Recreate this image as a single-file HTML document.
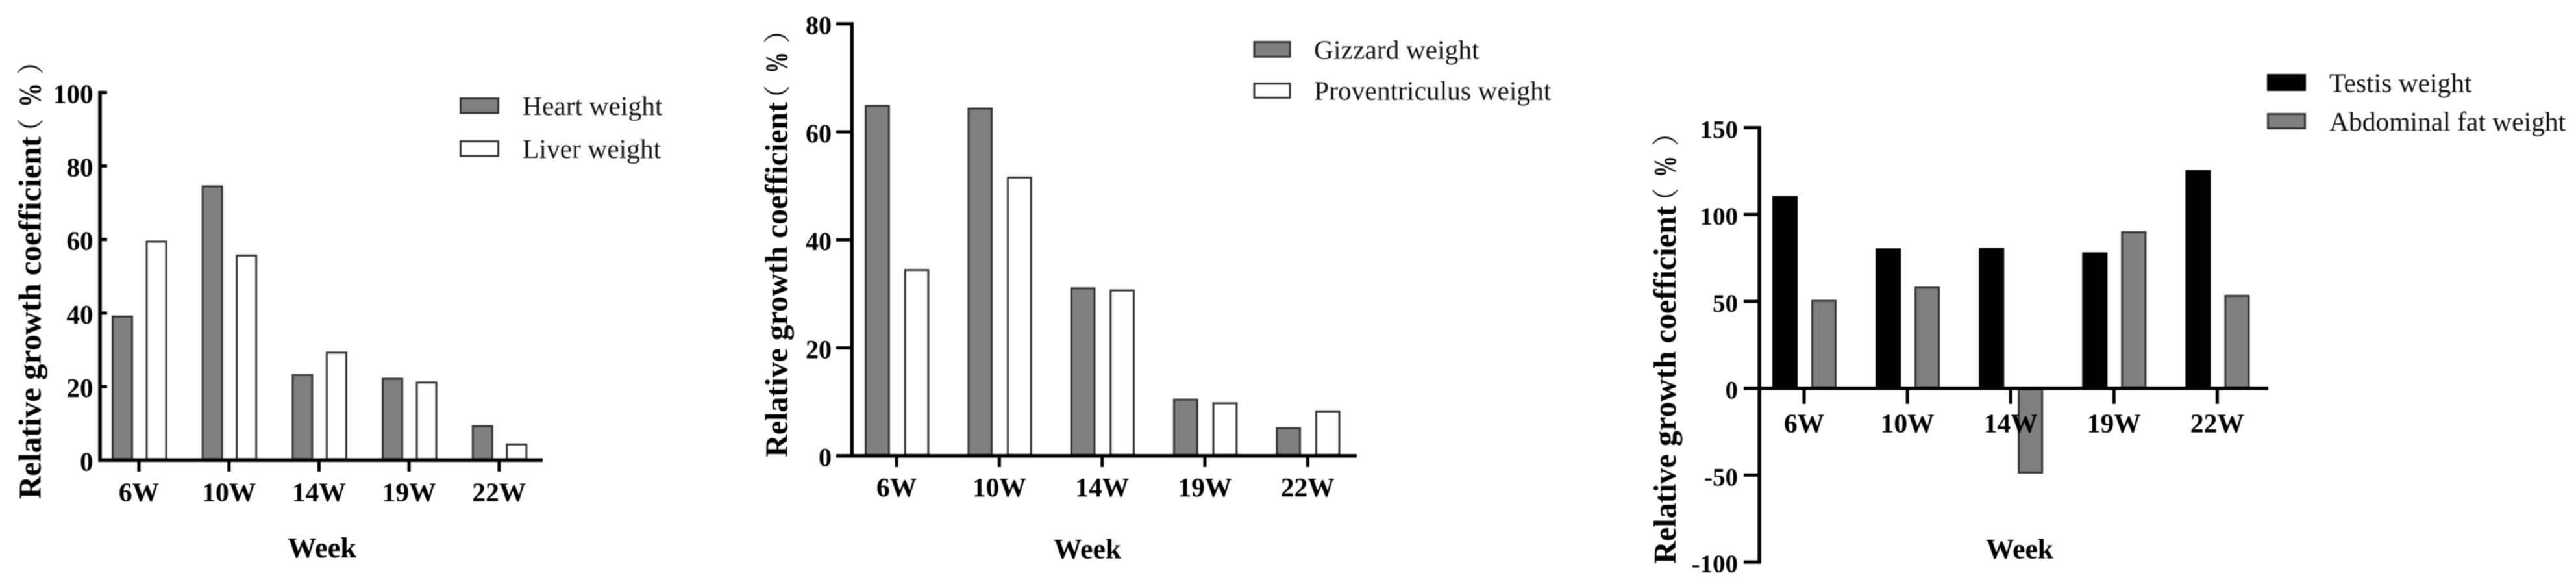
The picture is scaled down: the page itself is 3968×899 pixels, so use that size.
<!DOCTYPE html>
<html lang="en">
<head>
<meta charset="utf-8">
<title>Relative growth coefficient by week</title>
<style>
  html, body { margin: 0; padding: 0; background: #fff; }
  body { width: 3968px; height: 899px; overflow: hidden; }
  svg { display: block; filter: blur(0.7px); }
  text { font-family: "Liberation Serif", "Noto Serif CJK SC", serif; fill: #000; }
  .bold { font-weight: bold; }
  .leg { font-size: 41.5px; fill: #111; }
  .title { font-size: 48.5px; font-weight: bold; font-variant-ligatures: none; }
  .paren { font-size: 42px; font-weight: normal; font-family: "Noto Serif CJK SC", "Liberation Serif", serif; }
  .week { font-size: 44.5px; font-weight: bold; text-anchor: middle; }
</style>
</head>
<body>
<svg id="figure" xmlns="http://www.w3.org/2000/svg" width="3968" height="899" viewBox="0 0 3968 899">
  <rect x="0" y="0" width="3968" height="899" fill="#fff"/>

  <g id="panel-1"></g>
  <g id="panel-2"></g>
  <g id="panel-3"></g>

  <!-- Panel 1 static -->
  <g transform="translate(62.5,768) rotate(-90)">
    <text class="title" x="0" y="0" textLength="558" lengthAdjust="spacingAndGlyphs">Relative growth coefficient</text>
    <text class="paren" x="544" y="0">（</text>
    <text class="title" x="603" y="0" textLength="37" lengthAdjust="spacingAndGlyphs">%</text>
    <text class="paren" x="653" y="0">）</text>
  </g>
  <text class="week" x="496" y="858">Week</text>
  <g>
    <rect x="709.5" y="151.5" width="58" height="22.5" fill="#808080" stroke="#333" stroke-width="3"/>
    <text class="leg" x="805" y="177">Heart weight</text>
    <rect x="709.5" y="217.5" width="58" height="22.5" fill="#fff" stroke="#333" stroke-width="3"/>
    <text class="leg" x="805" y="243">Liver weight</text>
  </g>

  <!-- Panel 2 static -->
  <g transform="translate(1212.7,703.7) rotate(-90)">
    <text class="title" x="0" y="0" textLength="546.7" lengthAdjust="spacingAndGlyphs">Relative growth coefficient</text>
    <text class="paren" x="530.7" y="0">（</text>
    <text class="title" x="590.7" y="0" textLength="33" lengthAdjust="spacingAndGlyphs">%</text>
    <text class="paren" x="636.7" y="0">）</text>
  </g>
  <text class="week" x="1675" y="859.6" style="font-size:43.5px">Week</text>
  <g>
    <rect x="1932" y="64.5" width="55" height="22.8" fill="#808080" stroke="#333" stroke-width="3"/>
    <text class="leg" x="2024" y="90.5">Gizzard weight</text>
    <rect x="1932" y="128.7" width="55" height="21.7" fill="#fff" stroke="#333" stroke-width="3"/>
    <text class="leg" x="2024" y="153.6">Proventriculus weight</text>
  </g>

  <!-- Panel 3 static -->
  <g transform="translate(2581,868) rotate(-90)">
    <text class="title" x="0" y="0" textLength="551" lengthAdjust="spacingAndGlyphs">Relative growth coefficient</text>
    <text class="paren" x="537" y="0">（</text>
    <text class="title" x="595" y="0" textLength="33" lengthAdjust="spacingAndGlyphs">%</text>
    <text class="paren" x="643" y="0">）</text>
  </g>
  <text class="week" x="3111" y="859.6" style="font-size:43.5px">Week</text>
  <g>
    <rect x="3493" y="115" width="58" height="24" fill="#000" stroke="#000" stroke-width="2"/>
    <text class="leg" x="3588" y="141.7">Testis weight</text>
    <rect x="3493.5" y="175.5" width="57" height="22" fill="#808080" stroke="#333" stroke-width="3"/>
    <text class="leg" x="3588" y="201">Abdominal fat weight</text>
  </g>
</svg>

<script>
const categories = ["6W", "10W", "14W", "19W", "22W"];

const heartWeight = [39.3, 74.7, 23.4, 22.4, 9.5];
const liverWeight = [59.7, 55.9, 29.5, 21.4, 4.5];
const panel1Ticks = [0, 20, 40, 60, 80, 100];

const gizzardWeight = [65.0, 64.5, 31.2, 10.6, 5.3];
const proventriculusWeight = [34.6, 51.7, 30.8, 9.9, 8.4];
const panel2Ticks = [0, 20, 40, 60, 80];

const testisWeight = [110.7, 80.6, 80.8, 78.2, 125.6];
const abdominalFatWeight = [50.9, 58.5, -49.1, 90.4, 53.8];
const panel3Ticks = [-100, -50, 0, 50, 100, 150];

const SVG_NS = "http://www.w3.org/2000/svg";

function make(tag, parent, props) {
  const el = document.createElementNS(SVG_NS, tag);
  for (const key in props) {
    el.setAttribute(key, props[key]);
  }
  parent.appendChild(el);
  return el;
}

function drawPanel(cfg) {
  const root = document.getElementById(cfg.id);
  const yScale = function (v) {
    return cfg.y0 + (v / cfg.domainRef) * (cfg.yRef - cfg.y0);
  };
  const xScale = function (i) {
    return cfg.x0 + i * cfg.step;
  };

  cfg.series.forEach(function (s) {
    s.values.forEach(function (v, i) {
      const top = Math.min(yScale(v), cfg.y0);
      const bottom = Math.max(yScale(v), cfg.y0);
      const bar = make("rect", root, {
        x: xScale(i) + s.offset + 1.5,
        y: top + 1.5,
        width: cfg.barWidth - 3,
        height: Math.max(bottom - top - 3, 0.5),
        fill: s.fill,
        stroke: s.stroke,
        "stroke-width": 3
      });
      
      
    });
  });

  const tickValues = cfg.ticks;
  const yTop = yScale(Math.max.apply(null, tickValues));
  const yBottom = yScale(Math.min.apply(null, tickValues));

  const yAxis = make("line", root, {
    x1: cfg.axisX, x2: cfg.axisX, y1: yTop - 2.5, y2: yBottom + 2.5,
    stroke: "#000", "stroke-width": 5.5
  });
  
  

  tickValues.forEach(function (t) {
    const tick = make("line", root, {
      x1: cfg.axisX, x2: cfg.yTickEnd, y1: yScale(t), y2: yScale(t),
      stroke: "#000", "stroke-width": 5
    });
    
    

    const label = make("text", root, {
      x: cfg.labelRight, y: yScale(t) + 16,
      "text-anchor": "end", "font-size": cfg.tickFont, "font-weight": "bold"
    });
    label.textContent = String(t);
    
    
  });

  const xAxis = make("line", root, {
    x1: cfg.xAxisStart, x2: cfg.xAxisEnd, y1: cfg.y0, y2: cfg.y0,
    stroke: "#000", "stroke-width": 5.5
  });
  
  

  categories.forEach(function (c, i) {
    const tick = make("line", root, {
      x1: xScale(i), x2: xScale(i), y1: cfg.y0, y2: cfg.xTickEnd,
      stroke: "#000", "stroke-width": 5
    });
    
    

    const label = make("text", root, {
      x: xScale(i), y: cfg.xLabelY,
      "text-anchor": "middle", "font-size": 41.5, "font-weight": "bold"
    });
    label.textContent = c;
    
    
  });
}

drawPanel({
  id: "panel-1", name: "heart-liver",
  axisX: 154, y0: 708.3, yRef: 142.3, domainRef: 100,
  yTickEnd: 165, labelRight: 143.5, tickFont: 41,
  xAxisStart: 151.5, xAxisEnd: 836, x0: 214, step: 138.7, xTickEnd: 726, xLabelY: 771.7,
  barWidth: 33, ticks: panel1Ticks,
  series: [
    { name: "heart", values: heartWeight, offset: -42, fill: "#808080", stroke: "#333" },
    { name: "liver", values: liverWeight, offset: 10.5, fill: "#fff", stroke: "#333" }
  ]
});

drawPanel({
  id: "panel-2", name: "gizzard-proventriculus",
  axisX: 1312.3, y0: 701.7, yRef: 36.7, domainRef: 80,
  yTickEnd: 1288, labelRight: 1281, tickFont: 40,
  xAxisStart: 1288, xAxisEnd: 2090, x0: 1381.1, step: 158.3, xTickEnd: 719, xLabelY: 764,
  barWidth: 38.7, ticks: panel2Ticks,
  series: [
    { name: "gizzard", values: gizzardWeight, offset: -49, fill: "#808080", stroke: "#333" },
    { name: "proventriculus", values: proventriculusWeight, offset: 11.6, fill: "#fff", stroke: "#333" }
  ]
});

drawPanel({
  id: "panel-3", name: "testis-fat",
  axisX: 2710, y0: 597.7, yRef: 196.5, domainRef: 150,
  yTickEnd: 2686, labelRight: 2677, tickFont: 39,
  xAxisStart: 2686, xAxisEnd: 3494, x0: 2779, step: 159.1, xTickEnd: 621.7, xLabelY: 665.7,
  barWidth: 39, ticks: panel3Ticks,
  series: [
    { name: "testis", values: testisWeight, offset: -49, fill: "#000", stroke: "#000" },
    { name: "abdominal-fat", values: abdominalFatWeight, offset: 11, fill: "#808080", stroke: "#333" }
  ]
});
</script>
</body>
</html>
